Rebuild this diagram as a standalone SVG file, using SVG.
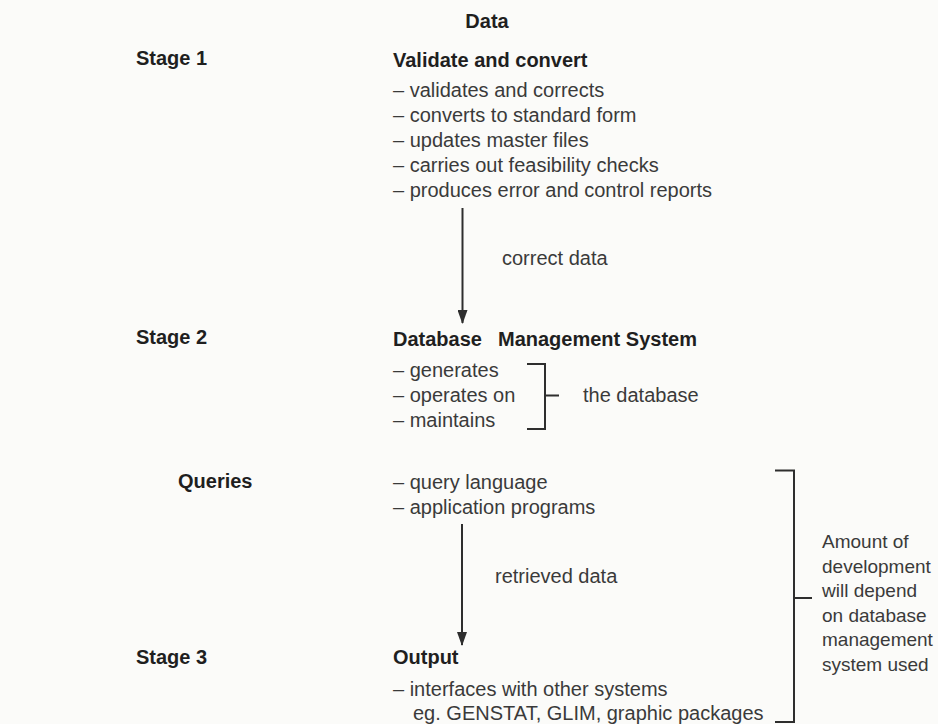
<svg xmlns="http://www.w3.org/2000/svg" width="938" height="724" viewBox="0 0 938 724">
  <style>
    .bold { font-family: "Liberation Sans", Arial, sans-serif; font-weight: bold; font-size: 20px; fill: #1f1f1f; }
    .body { font-family: "Liberation Sans", Arial, sans-serif; font-size: 20px; fill: #3a3a3a; }
    .note { font-family: "Liberation Sans", Arial, sans-serif; font-size: 19px; fill: #3a3a3a; }
    .line { stroke: #2e2e2e; stroke-width: 2; fill: none; }
    .brace { stroke: #2e2e2e; stroke-width: 2; fill: none; stroke-linejoin: miter; }
  </style>
  <defs>
    <!-- narrow filled arrowhead, drawn along +x so orient="auto" points it down the line -->
    <marker id="arrowhead" markerWidth="14" markerHeight="10" refX="13" refY="5" orient="auto" markerUnits="userSpaceOnUse" viewBox="0 0 14 10">
      <path d="M0,0 L14,5 L0,10 Z" fill="#2e2e2e"/>
    </marker>
  </defs>

  <rect width="938" height="724" fill="#fbfbf9"/>

  <!-- stage labels -->
  <g id="stage1"><text class="bold" x="136" y="65">Stage 1</text></g>
  <g id="stage2"><text class="bold" x="136" y="344">Stage 2</text></g>
  <g id="queries"><text class="bold" x="178" y="488">Queries</text></g>
  <g id="stage3"><text class="bold" x="136" y="664">Stage 3</text></g>

  <!-- input -->
  <g id="data"><text class="bold" x="487" y="28" text-anchor="middle">Data</text></g>

  <!-- stage 1 -->
  <g id="validate">
    <text class="bold" x="393" y="67">Validate and convert</text>
    <text class="body" x="393" y="97">– validates and corrects</text>
    <text class="body" x="393" y="122">– converts to standard form</text>
    <text class="body" x="393" y="147">– updates master files</text>
    <text class="body" x="393" y="172">– carries out feasibility checks</text>
    <text class="body" x="393" y="197">– produces error and control reports</text>
  </g>

  <!-- stage 2 -->
  <g id="dbms">
    <text class="bold" x="393" y="346">Database</text>
    <text class="bold" x="498" y="346">Management System</text>
    <text class="body" x="393" y="377">– generates</text>
    <text class="body" x="393" y="402">– operates on</text>
    <text class="body" x="393" y="427">– maintains</text>
    <path class="brace" d="M527,364 H545 V429 H527 M545,395.5 H559"/>
    <text class="body" x="583" y="402">the database</text>
  </g>

  <!-- query tools -->
  <g id="query-tools">
    <text class="body" x="393" y="489">– query language</text>
    <text class="body" x="393" y="514">– application programs</text>
  </g>

  <!-- stage 3 -->
  <g id="output">
    <text class="bold" x="393" y="664">Output</text>
    <text class="body" x="393" y="696">– interfaces with other systems</text>
    <text class="body" x="413" y="720">eg. GENSTAT, GLIM, graphic packages</text>
  </g>

  <!-- development note -->
  <g id="development-note">
    <path class="brace" d="M775,470.5 H794 V722 H775 M794,598 H812"/>
    <text class="note" x="822" y="548">Amount of</text>
    <text class="note" x="822" y="572.5">development</text>
    <text class="note" x="822" y="597">will depend</text>
    <text class="note" x="822" y="621.5">on database</text>
    <text class="note" x="822" y="646">management</text>
    <text class="note" x="822" y="670.5">system used</text>
  </g>

  <!-- connectors -->
  <g id="connectors">
    <line class="line" x1="462.5" y1="208" x2="462.5" y2="323" marker-end="url(#arrowhead)"/>
    <text class="body" x="502" y="265">correct data</text>
    <line class="line" x1="462" y1="524" x2="462" y2="645" marker-end="url(#arrowhead)"/>
    <text class="body" x="495" y="583">retrieved data</text>
  </g>
</svg>
